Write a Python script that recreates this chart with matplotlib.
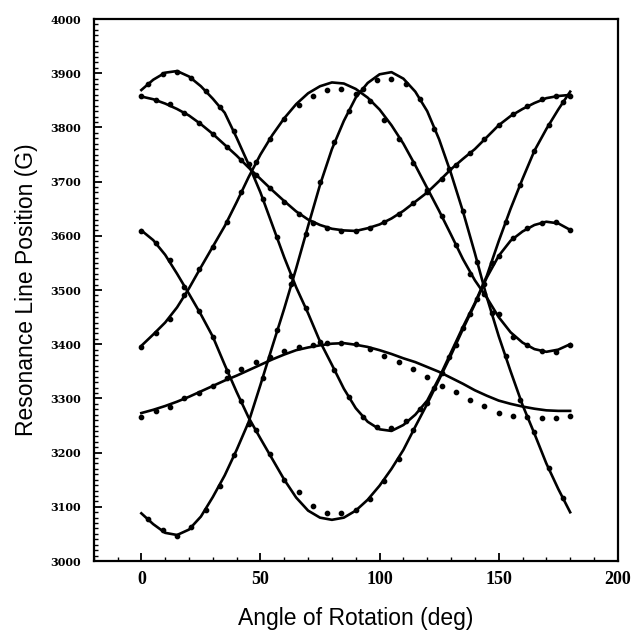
import numpy as np
import matplotlib
matplotlib.use("Agg")
from matplotlib import pyplot as plt
from matplotlib.ticker import MultipleLocator

# fitted curves, read every 5 degrees
fit_angle = np.arange(0, 181, 5)

fit_a = [3869, 3888, 3901, 3904, 3894, 3876, 3853, 3827, 3781, 3732, 3680, 3620,
         3560, 3505, 3457, 3405, 3362, 3318, 3282, 3257, 3243, 3240, 3251, 3270,
         3296, 3338, 3385, 3432, 3476, 3526, 3590, 3650, 3705, 3757, 3797, 3833, 3866]
fit_b = [3088, 3068, 3052, 3048, 3058, 3082, 3118, 3158, 3205, 3256, 3325, 3396,
         3466, 3540, 3618, 3694, 3760, 3812, 3855, 3882, 3898, 3902, 3890, 3866,
         3830, 3778, 3715, 3645, 3568, 3487, 3415, 3350, 3288, 3235, 3180, 3133, 3090]
fit_c = [3610, 3592, 3565, 3530, 3493, 3455, 3414, 3362, 3312, 3265, 3226, 3188,
         3150, 3117, 3093, 3080, 3076, 3080, 3093, 3113, 3139, 3170, 3205, 3248,
         3290, 3335, 3380, 3428, 3474, 3523, 3563, 3591, 3608, 3620, 3626, 3623, 3611]
fit_d = [3397, 3418, 3440, 3468, 3503, 3542, 3580, 3618, 3662, 3708, 3750, 3786,
         3817, 3843, 3863, 3876, 3883, 3881, 3871, 3855, 3833, 3804, 3770, 3730,
         3688, 3646, 3602, 3557, 3518, 3486, 3450, 3422, 3403, 3391, 3386, 3390, 3400]
fit_e = [3857, 3852, 3844, 3834, 3822, 3806, 3788, 3768, 3748, 3726, 3705, 3684,
         3664, 3645, 3630, 3620, 3613, 3610, 3609, 3614, 3621, 3632, 3646, 3663,
         3680, 3701, 3723, 3742, 3760, 3782, 3804, 3821, 3834, 3845, 3854, 3858, 3860]
fit_f = [3273, 3279, 3286, 3294, 3303, 3313, 3323, 3333, 3342, 3352, 3362, 3372,
         3381, 3389, 3394, 3398, 3401, 3402, 3399, 3395, 3389, 3382, 3374, 3367,
         3358, 3349, 3338, 3327, 3315, 3305, 3296, 3290, 3285, 3281, 3278, 3277, 3277]

# measured points
ang_ab = np.arange(3, 180, 6)
ang_cdef = np.arange(0, 181, 6)

pts_a = [3880, 3899, 3903, 3891, 3868, 3838, 3794, 3732, 3668, 3598, 3526, 3466,
         3405, 3353, 3302, 3266, 3248, 3246, 3258, 3280, 3320, 3376, 3430, 3484,
         3550, 3626, 3694, 3757, 3804, 3846]
pts_b = [3078, 3058, 3046, 3062, 3094, 3138, 3195, 3252, 3338, 3426, 3512, 3604,
         3700, 3773, 3830, 3871, 3887, 3890, 3880, 3853, 3797, 3724, 3645, 3552,
         3458, 3378, 3298, 3238, 3172, 3117]
pts_c = [3608, 3586, 3555, 3506, 3462, 3414, 3350, 3296, 3241, 3198, 3150, 3127,
         3101, 3089, 3088, 3095, 3114, 3148, 3188, 3242, 3292, 3346, 3398, 3455,
         3512, 3562, 3596, 3615, 3624, 3625, 3611]
pts_d = [3395, 3420, 3447, 3490, 3538, 3580, 3626, 3680, 3736, 3778, 3816, 3842,
         3858, 3869, 3871, 3861, 3848, 3813, 3778, 3735, 3684, 3636, 3583, 3530,
         3492, 3455, 3414, 3398, 3387, 3386, 3398]
pts_e = [3858, 3851, 3843, 3826, 3809, 3788, 3764, 3740, 3712, 3689, 3662, 3640,
         3624, 3614, 3609, 3609, 3614, 3626, 3640, 3660, 3681, 3705, 3730, 3753,
         3778, 3804, 3824, 3840, 3852, 3858, 3858]
pts_f = [3265, 3277, 3285, 3300, 3310, 3323, 3338, 3354, 3367, 3376, 3388, 3394,
         3399, 3402, 3402, 3400, 3392, 3378, 3368, 3354, 3340, 3323, 3311, 3297,
         3286, 3274, 3268, 3266, 3264, 3264, 3267]

fig = plt.figure(figsize=(6.33, 6.30), dpi=100)
ax = fig.add_axes([0.148, 0.1095, 0.828, 0.8603])

for curve in [fit_a, fit_b, fit_c, fit_d, fit_e, fit_f]:
    ax.plot(fit_angle, curve, color="black", linewidth=1.9, solid_joinstyle="round")

for ang, pts in [(ang_ab, pts_a), (ang_ab, pts_b), (ang_cdef, pts_c),
                 (ang_cdef, pts_d), (ang_cdef, pts_e), (ang_cdef, pts_f)]:
    ax.plot(ang, pts, linestyle="none", marker="o", markersize=3.1,
            color="black")

ax.set_xlim(-20, 200)
ax.set_ylim(3000, 4000)
ax.xaxis.set_major_locator(MultipleLocator(50))
ax.xaxis.set_minor_locator(MultipleLocator(10))
ax.yaxis.set_major_locator(MultipleLocator(100))
ax.yaxis.set_minor_locator(MultipleLocator(10))
ax.tick_params(axis="both", which="both", direction="in", top=False, right=False)
ax.tick_params(axis="both", which="major", length=6, width=1.3)
ax.tick_params(axis="both", which="minor", length=3, width=1.0)
ax.tick_params(axis="x", which="major", pad=7)
ax.tick_params(axis="y", which="major", pad=9)
for s in ax.spines.values():
    s.set_linewidth(1.6)

for lab in ax.get_xticklabels():
    lab.set_fontfamily("Liberation Serif")
    lab.set_fontweight("bold")
    lab.set_fontsize(13)
for lab in ax.get_yticklabels():
    lab.set_fontfamily("DejaVu Serif")
    lab.set_fontweight("bold")
    lab.set_fontsize(8)

ax.set_xlabel("Angle of Rotation (deg)", fontfamily="Liberation Sans",
              fontsize=16.5, labelpad=14)
ax.set_ylabel("Resonance Line Position (G)", fontfamily="Liberation Sans",
              fontsize=16.5, labelpad=9)

fig.savefig("out.png", dpi=100)
